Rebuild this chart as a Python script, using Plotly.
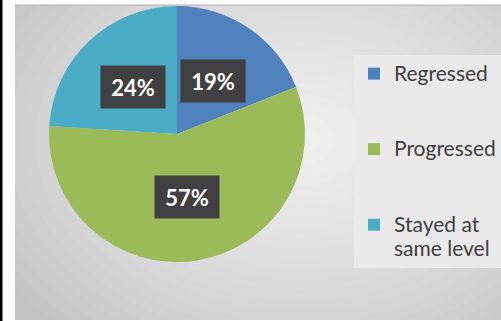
import math
import plotly.graph_objects as go

categories = ["Regressed", "Progressed", "Stayed at same level"]
legend_labels = ["Regressed", "Progressed", "Stayed at<br>same level"]
values = [19, 57, 24]
colors = ["#4f81bd", "#9bbb59", "#4bacc6"]
pct_labels = ["19%", "57%", "24%"]

W, H = 501, 321
# pie geometry (pixels)
cx, cy, R = 177, 134, 128

def big(s):
    return "<br>".join(f"<span style='font-size:21px'>{p}</span>" for p in s.split("<br>"))

pad = "<br>&nbsp;<br>&nbsp;"
names = [big(legend_labels[0]) + pad, big(legend_labels[1]) + pad, big(legend_labels[2])]

fig = go.Figure(go.Pie(
    labels=names,
    values=values,
    marker=dict(colors=colors, line=dict(width=0)),
    sort=False,
    direction="clockwise",
    rotation=0,
    textinfo="none",
    hoverinfo="percent",
    domain=dict(x=[(cx - R) / W, (cx + R) / W], y=[1 - (cy + R) / H, 1 - (cy - R) / H]),
))

# background gradient approximated by concentric ellipses
shapes = []
x0, x1, y0, y1 = 15, 501, 5, 320
shapes.append(dict(type="rect", xref="paper", yref="paper", x0=x0 / W, x1=x1 / W,
                   y0=1 - y1 / H, y1=1 - y0 / H, fillcolor="#c3c3c3", line=dict(width=0), layer="below"))
gx, gy = 300, 140
N = 24
for i in range(N):
    f = i / (N - 1)
    rx = 330 * (1 - f) + 20
    ry = 240 * (1 - f) + 15
    c = int(0xc5 + (0xf0 - 0xc5) * f ** 0.8)
    col = f"rgb({c},{c},{c})"
    shapes.append(dict(type="circle", xref="paper", yref="paper",
                       x0=(gx - rx) / W, x1=(gx + rx) / W,
                       y0=1 - (gy + ry) / H, y1=1 - (gy - ry) / H,
                       fillcolor=col, line=dict(width=0), layer="below"))
# masks for outer frame
shapes.append(dict(type="rect", xref="paper", yref="paper", x0=0, x1=x0 / W, y0=0, y1=1,
                   fillcolor="white", line=dict(width=0), layer="above"))
shapes.append(dict(type="rect", xref="paper", yref="paper", x0=0, x1=1, y0=1 - y0 / H, y1=1.1,
                   fillcolor="white", line=dict(width=0), layer="above"))
shapes.append(dict(type="rect", xref="paper", yref="paper", x0=0, x1=1, y0=-0.1, y1=1 - y1 / H,
                   fillcolor="white", line=dict(width=0), layer="above"))
shapes.append(dict(type="line", xref="paper", yref="paper", x0=x0 / W, x1=1,
                   y0=1 - y0 / H, y1=1 - y0 / H, line=dict(color="#b0b0b0", width=1), layer="above"))
shapes.append(dict(type="rect", xref="paper", yref="paper", x0=0, x1=2.5 / W, y0=-0.1, y1=1.1,
                   fillcolor="black", line=dict(width=0), layer="above"))

# data labels at half radius, mid-angle of each slice
annotations = []
total = sum(values)
cum = 0
for v, t in zip(values, pct_labels):
    mid = (cum + v / 2) / total * 2 * math.pi
    cum += v
    px = cx + 0.5 * R * math.sin(mid)
    py = cy - 0.5 * R * math.cos(mid)
    annotations.append(dict(
        x=px / W, y=1 - py / H, xref="paper", yref="paper", text=f"<b>{t}</b>",
        xanchor="center", yanchor="middle",
        showarrow=False, font=dict(family="Lato", size=22, color="white"),
        bgcolor="#404040", width=62, height=40, align="center", valign="middle",
    ))

fig.update_layout(
    width=W, height=H,
    margin=dict(l=0, r=0, t=0, b=0),
    paper_bgcolor="white",
    plot_bgcolor="white",
    shapes=shapes,
    annotations=annotations,
    showlegend=True,
    legend=dict(
        x=354 / W, xanchor="left", y=1 - 55 / H, yanchor="top",
        bgcolor="#eaeaea", font=dict(family="Lato", size=18.6, color="#404040"),
        valign="top", itemwidth=30, traceorder="normal",
    ),
)

fig.write_html("out.html")
